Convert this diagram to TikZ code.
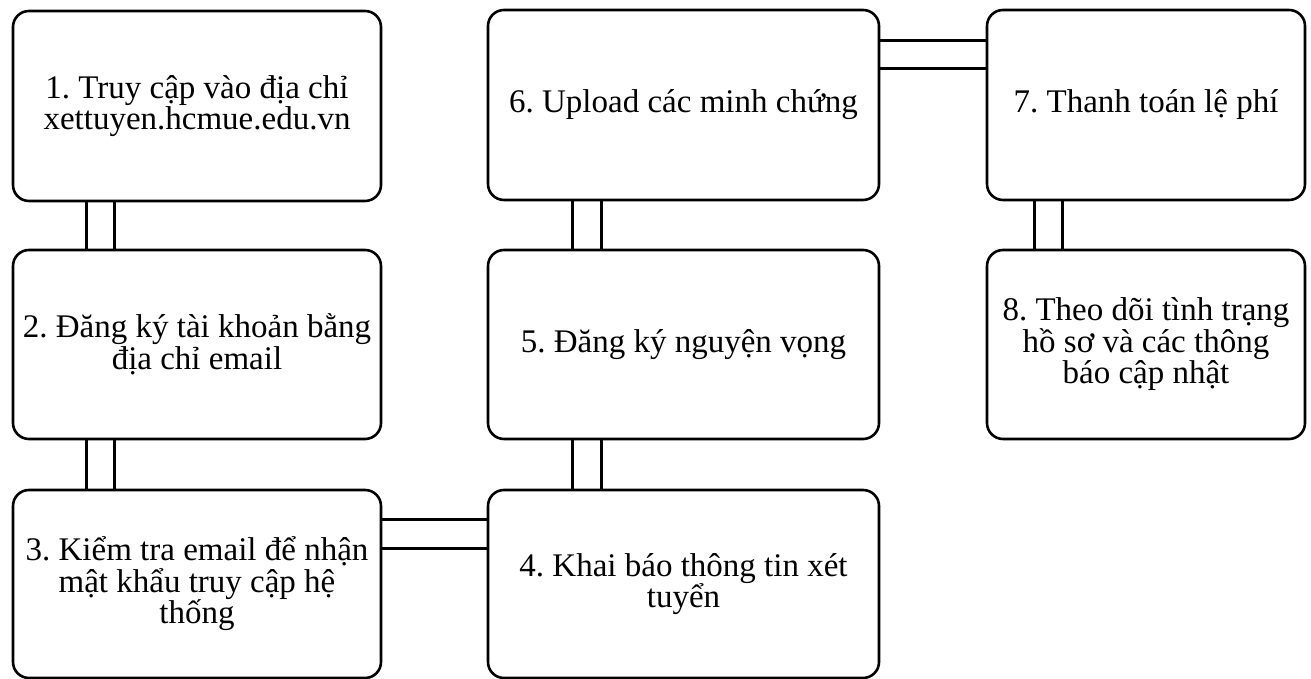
\documentclass[tikz,border=0pt]{standalone}
\usepackage{fontspec}
\setmainfont{Liberation Serif}
\frenchspacing
\begin{document}
\begin{tikzpicture}[x=1pt,y=1pt,
  stepbox/.style={draw=black, line width=2.6pt, rounded corners=16pt, align=center, inner sep=0pt,
    font=\fontsize{33}{31.5}\selectfont\frenchspacing},
  link/.style={draw=black, line width=2.6pt}]
\useasboundingbox (0,0) rectangle (1311,679);
% columns: col1 13-381, col2 488-879, col3 987-1305
% rows (tikz y): row1 479-669, row2 240-429, row3 2-189
\node[stepbox, minimum width=368pt, minimum height=190pt] (b1) at (197,573) {1. Truy cập vào địa chỉ\\xettuyen.hcmue.edu.vn};
\node[stepbox, minimum width=368pt, minimum height=189pt] (b2) at (197,334.5) {2. Đăng ký tài khoản bằng\\địa chỉ email};
\node[stepbox, minimum width=368pt, minimum height=188pt] (b3) at (197,95) {3. Kiểm tra email để nhận\\mật khẩu truy cập hệ\\thống};
\node[stepbox, minimum width=391pt, minimum height=188pt] (b4) at (683.5,95) {4. Khai báo thông tin xét\\tuyển};
\node[stepbox, minimum width=391pt, minimum height=189pt] (b5) at (683.5,334.5) {5. Đăng ký nguyện vọng};
\node[stepbox, minimum width=391pt, minimum height=190pt] (b6) at (683.5,574) {6. Upload các minh chứng};
\node[stepbox, minimum width=318pt, minimum height=190pt] (b7) at (1146,574) {7. Thanh toán lệ phí};
\node[stepbox, minimum width=318pt, minimum height=189pt] (b8) at (1146,334.5) {8. Theo dõi tình trạng\\hồ sơ và các thông\\báo cập nhật};
% connectors
\draw[link] ([xshift=75pt]b1.south west) -- ([xshift=75pt]b2.north west);
\draw[link] ([xshift=103pt]b1.south west) -- ([xshift=103pt]b2.north west);
\draw[link] ([xshift=75pt]b2.south west) -- ([xshift=75pt]b3.north west);
\draw[link] ([xshift=103pt]b2.south west) -- ([xshift=103pt]b3.north west);
\draw[link] ([yshift=-31pt]b3.north east) -- ([yshift=-31pt]b4.north west);
\draw[link] ([yshift=-60pt]b3.north east) -- ([yshift=-60pt]b4.north west);
\draw[link] ([xshift=86pt]b4.north west) -- ([xshift=86pt]b5.south west);
\draw[link] ([xshift=115pt]b4.north west) -- ([xshift=115pt]b5.south west);
\draw[link] ([xshift=86pt]b5.north west) -- ([xshift=86pt]b6.south west);
\draw[link] ([xshift=115pt]b5.north west) -- ([xshift=115pt]b6.south west);
\draw[link] ([yshift=-32pt]b6.north east) -- ([yshift=-32pt]b7.north west);
\draw[link] ([yshift=-60pt]b6.north east) -- ([yshift=-60pt]b7.north west);
\draw[link] ([xshift=49pt]b7.south west) -- ([xshift=49pt]b8.north west);
\draw[link] ([xshift=77pt]b7.south west) -- ([xshift=77pt]b8.north west);
\end{tikzpicture}
\end{document}
